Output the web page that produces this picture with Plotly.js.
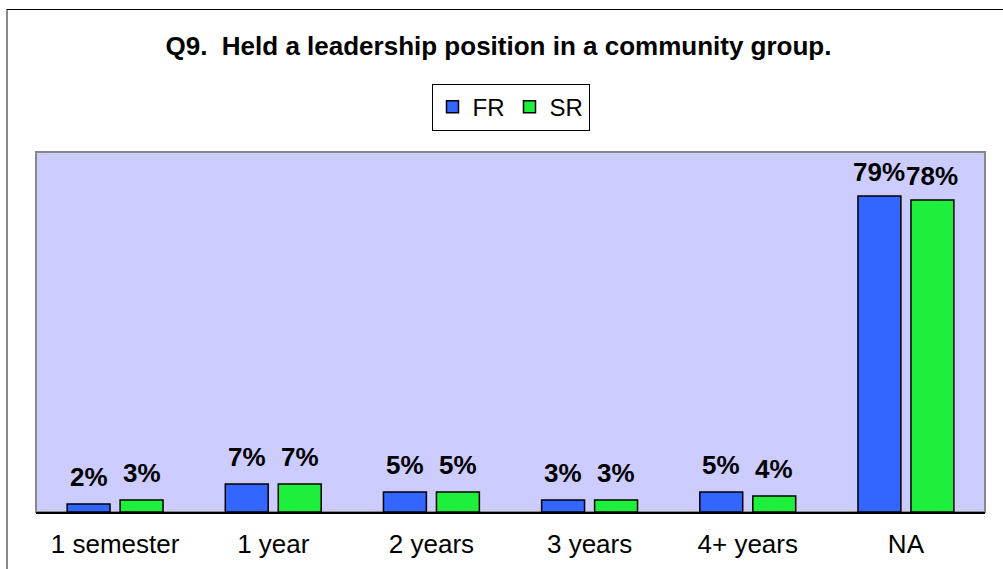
<!DOCTYPE html>
<html>
<head>
<meta charset="utf-8">
<script src="https://cdn.plot.ly/plotly-3.0.1.min.js"></script>
<style>
  html, body { margin: 0; padding: 0; background: #fff; }
  #wrap { position: relative; width: 1003px; height: 569px; overflow: hidden; }
  #chart { width: 1003px; height: 569px; }
  #frame { position: absolute; left: 6px; top: 9px; right: -10px; bottom: -10px;
           border-top: 1px solid #000; border-left: 2px solid #888; pointer-events: none; }
</style>
</head>
<body>
<div id="wrap">
  <div id="chart"></div>
  <div id="frame"></div>
</div>
<script>
const categories = ['1 semester', '1 year', '2 years', '3 years', '4+ years', 'NA'];
const frValues = [2, 7, 5, 3, 5, 79];
const srValues = [3, 7, 5, 3, 4, 78];
const seriesNames = ['FR', 'SR'];
const seriesColors = ['#3366FF', '#1EEE3C'];

const traces = [frValues, srValues].map((vals, i) => ({
  type: 'bar',
  name: seriesNames[i],
  x: categories,
  y: vals,
  marker: { color: seriesColors[i], line: { color: '#000', width: 1.5 } },
  hoverinfo: 'none'
}));

const offsets = [-26.5, 26.5];
const annotations = [];
[frValues, srValues].forEach((vals, i) => {
  vals.forEach((v, j) => {
    annotations.push({
      x: categories[j], y: v, xref: 'x', yref: 'y',
      text: v + '%', showarrow: false,
      xanchor: 'center', yanchor: 'bottom',
      xshift: offsets[i], yshift: v > 50 ? 7 : 10,
      font: { family: 'Arial, Liberation Sans, sans-serif', size: 26, color: '#000', weight: 'bold' }
    });
  });
});

const layout = {
  width: 1003, height: 569,
  margin: { l: 36, r: 18, t: 152, b: 57 },
  paper_bgcolor: 'rgba(0,0,0,0)',
  plot_bgcolor: '#CCCCFF',
  barmode: 'group',
  bargap: 0.33,
  bargroupgap: 0.19,
  title: {
    text: 'Q9.\u00A0 Held a leadership position in a community group.',
    font: { family: 'Arial, Liberation Sans, sans-serif', size: 26, color: '#000', weight: 'bold' },
    x: 0.497, xanchor: 'center', y: 0.92, yanchor: 'middle'
  },
  showlegend: true,
  legend: {
    orientation: 'h', x: 0.5, xanchor: 'center', y: 1.19, yanchor: 'top',
    bgcolor: '#fff', bordercolor: '#000', borderwidth: 1,
    font: { family: 'Arial, Liberation Sans, sans-serif', size: 24, color: '#000' },
    itemclick: false, itemdoubleclick: false
  },
  xaxis: {
    type: 'category',
    showgrid: false, zeroline: false,
    showline: true, linecolor: '#000', linewidth: 1.5,
    ticks: '',
    ticklabelstandoff: 8,
    tickfont: { family: 'Arial, Liberation Sans, sans-serif', size: 26, color: '#000' },
    fixedrange: true
  },
  yaxis: {
    range: [0, 90], visible: false, showgrid: false, zeroline: false, fixedrange: true
  },
  shapes: [{
    type: 'rect', xref: 'paper', yref: 'paper', x0: 0, x1: 1, y0: 0, y1: 1,
    line: { color: '#888', width: 2 }, layer: 'below'
  }],
  annotations: annotations
};

Plotly.newPlot('chart', traces, layout, { displayModeBar: false, staticPlot: true });
</script>
</body>
</html>
